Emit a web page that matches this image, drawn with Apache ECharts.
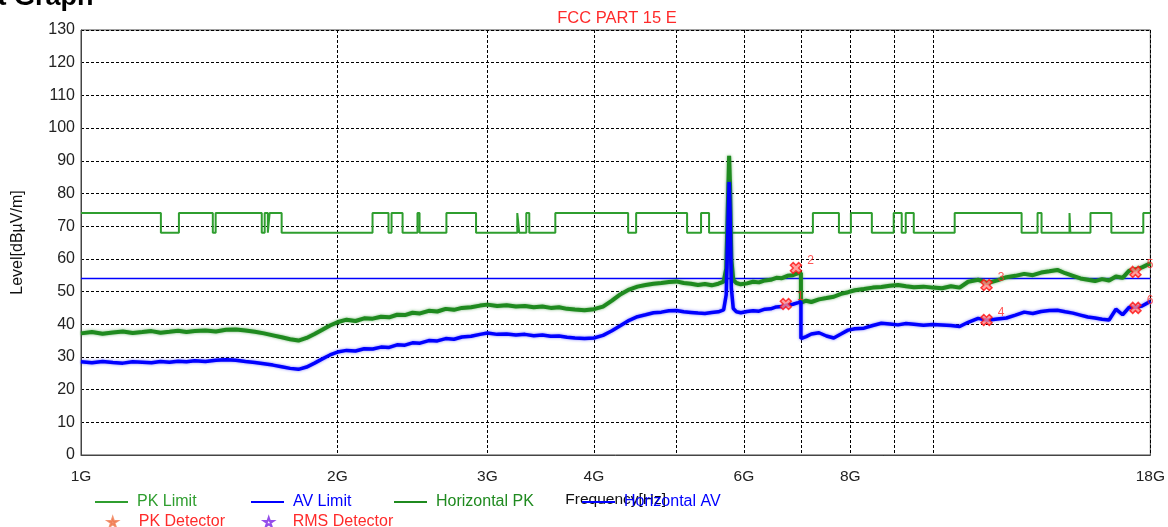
<!DOCTYPE html>
<html>
<head>
<meta charset="utf-8">
<script src="https://cdn.jsdelivr.net/npm/echarts@6.0.0/dist/echarts.min.js"></script>
<style>
  html, body { margin: 0; padding: 0; background: #fff; }
  #chart { width: 1168px; height: 527px; }
</style>
</head>
<body>
<div id="chart"></div>
<script>
// Scan frequencies (GHz) shared by both detector traces
const freqGHz = [
  1.00, 1.03, 1.06, 1.09, 1.12, 1.15, 1.18, 1.21, 1.24, 1.27, 1.30, 1.33, 1.36,
  1.40, 1.44, 1.48, 1.52, 1.56, 1.60, 1.64, 1.68, 1.72, 1.76, 1.80, 1.84, 1.88, 1.92, 1.96,
  2.00, 2.05, 2.10, 2.15, 2.20, 2.25, 2.30, 2.35, 2.40, 2.45, 2.50, 2.56, 2.62, 2.68, 2.74, 2.80, 2.87, 2.94,
  3.00, 3.08, 3.16, 3.24, 3.32, 3.40, 3.48, 3.56, 3.64, 3.72, 3.80, 3.90,
  4.00, 4.10, 4.20, 4.30, 4.40, 4.50, 4.60, 4.70, 4.80, 4.90, 5.00, 5.10, 5.20, 5.30, 5.40, 5.50, 5.60, 5.68,
  5.72, 5.75, 5.765, 5.78, 5.80, 5.83, 5.88, 5.95,
  6.05, 6.15, 6.25, 6.35, 6.45, 6.55, 6.65, 6.75, 6.85, 6.95, 7.00,
  7.00, 7.10, 7.20, 7.35, 7.50, 7.65, 7.80, 7.95, 8.10, 8.30, 8.50, 8.70, 8.90, 9.10, 9.30, 9.50, 9.75, 10.0, 10.25, 10.5, 10.75,
  11.0, 11.3, 11.6, 11.9, 12.2, 12.5, 12.8, 13.1, 13.4, 13.7, 14.0, 14.3, 14.6, 14.9, 15.2, 15.5, 15.8, 16.1, 16.4, 16.7, 17.0, 17.3, 17.6, 18.0
];

// Horizontal polarisation, peak detector (dBµV/m)
const horizontalPK = [
  37.2, 37.6, 37.1, 37.5, 37.8, 37.3, 37.6, 37.9, 37.4, 37.7, 38.0, 37.6, 37.9,
  38.1, 37.8, 38.3, 38.4, 38.1, 37.7, 37.2, 36.6, 36.0, 35.4, 35.0, 35.8, 37.0, 38.3, 39.6,
  40.6, 41.4, 41.0, 41.8, 41.7, 42.3, 42.1, 42.9, 42.8, 43.5, 43.3, 44.1, 43.9, 44.7, 44.4, 45.0, 45.2, 45.7,
  46.0, 45.6, 45.8, 45.4, 45.6, 45.2, 45.4, 45.0, 45.2, 44.7, 44.5, 44.3,
  44.6, 45.4, 47.2, 49.2, 50.6, 51.5, 52.0, 52.4, 52.6, 52.9, 53.1, 52.6, 52.4, 52.0, 52.3, 51.9, 52.4, 53.0,
  57.0, 80.0, 91.5, 82.0, 60.0, 53.6, 52.6, 52.2,
  52.5, 53.0, 52.8, 53.4, 53.6, 54.2, 54.1, 54.8, 55.0, 55.6, 55.7,
  46.6, 47.2, 46.8, 47.6, 48.0, 48.4, 49.3, 49.8, 50.4, 50.8, 51.2, 51.4, 51.8, 52.0, 51.6, 51.3, 51.5, 51.2, 51.0, 51.6, 51.2,
  53.0, 53.6, 52.6, 53.4, 54.4, 54.8, 55.4, 55.0, 55.8, 56.2, 56.6, 55.6, 54.8, 54.0, 53.6, 53.2, 53.8, 53.4, 54.6, 54.2, 56.4, 56.8, 57.4, 58.6
];

// Horizontal polarisation, average detector (dBµV/m)
const horizontalAV = [
  28.5, 28.2, 28.6, 28.3, 28.1, 28.5, 28.4, 28.2, 28.6, 28.4, 28.7, 28.5, 28.8,
  28.6, 29.0, 29.1, 29.0, 28.6, 28.3, 27.9, 27.5, 27.0, 26.5, 26.2, 26.9, 28.1, 29.4, 30.6,
  31.5, 32.0, 31.8, 32.5, 32.4, 33.0, 32.9, 33.7, 33.6, 34.3, 34.2, 35.0, 34.9, 35.6, 35.4, 36.1, 36.3, 36.9,
  37.3, 36.9, 37.0, 36.7, 36.9, 36.5, 36.7, 36.3, 36.4, 36.0, 35.8, 35.6,
  35.8, 36.6, 38.0, 39.6, 41.2, 42.3, 42.9, 43.5, 43.7, 44.1, 44.2, 43.8, 43.6, 43.4, 43.3, 43.6, 43.8, 44.4,
  49.0, 72.0, 83.5, 74.0, 51.0, 44.8, 43.8, 43.5,
  43.9, 44.1, 44.0, 44.6, 44.7, 45.3, 45.4, 45.9, 46.1, 46.6, 46.9,
  35.6, 36.2, 37.0, 37.4, 36.4, 35.8, 37.0, 38.2, 38.6, 38.8, 39.6, 40.3, 40.1, 39.8, 40.2, 40.0, 39.7, 39.9, 39.8, 39.6, 39.3,
  40.6, 41.8, 41.2, 41.6, 41.9, 42.8, 43.7, 43.3, 43.9, 44.2, 44.3, 43.8, 43.4, 42.8, 42.2, 41.9, 41.5, 41.3, 44.6, 42.9, 45.2, 45.2, 45.6, 47.0
];

// Peak limit: level that starts at each break frequency (GHz)
const pkLimitFreq = [
  1.000, 1.241, 1.303, 1.428, 1.439, 1.630, 1.643, 1.657, 1.665, 1.720,
  2.199, 2.296, 2.315, 2.385, 2.483, 2.497, 2.685, 2.909,
  3.252, 3.269, 3.332, 3.359, 3.604, 4.388, 4.484, 5.146, 5.344, 5.461,
  7.230, 7.757, 8.012, 8.479, 8.995, 9.192, 9.292, 9.496, 10.607,
  12.710, 13.270, 13.414, 14.467, 14.500, 15.310, 16.200, 17.660, 18.000
];
const pkLimitLevel = [
  74, 68, 74, 68, 74, 68, 74, 68, 74, 68,
  74, 68, 74, 68, 74, 68, 74, 68,
  74, 68, 74, 68, 74, 68, 74, 68, 74, 68,
  74, 68, 74, 68, 74, 68, 74, 68, 74,
  68, 74, 68, 74, 68, 74, 68, 74, 74
];

// Average limit
const avLimitFreq = [1, 18];
const avLimitLevel = [54, 54];

// Final measurement points
const pkDetFreq = [6.906, 11.56, 17.29];
const pkDetLevel = [57.2, 52.0, 56.0];
const pkDetNo = ['2', '3', '5'];
const rmsDetFreq = [6.72, 11.56, 17.29];
const rmsDetLevel = [46.2, 41.3, 45.0];
const rmsDetNo = ['1', '4', '6'];

// Axis ticks
const xLabelValues = [1, 2, 3, 4, 6, 8, 18];
const xGridValues = [1, 2, 3, 4, 5, 6, 7, 8, 9, 10, 18];

const FONT = "'Liberation Sans', Arial, sans-serif";
const GREEN_LIMIT = '#2f9e2f';
const GREEN_TRACE = '#1f8a1f';
const BLUE = '#0000ff';
const RED = '#ff2a2a';

const zip = (xs, ys) => xs.map((x, i) => [x, ys[i]]);
const zip3 = (xs, ys, ns) => xs.map((x, i) => [x, ys[i], ns[i]]);

const markerPath = 'path://M3,0 L6,3 L9,0 L12,3 L9,6 L12,9 L9,12 L6,9 L3,12 L0,9 L3,6 L0,3 Z';
const starPath = 'path://M5,0 L6.2,3.6 L10,3.6 L6.9,5.8 L8.1,9.5 L5,7.2 L1.9,9.5 L3.1,5.8 L0,3.6 L3.8,3.6 Z';

function lineLegend(name, left, top, color) {
  return {
    left: left, top: top, padding: 0, itemWidth: 33, itemHeight: 2,
    data: [{ name: name, icon: 'rect' }],
    itemStyle: { color: color },
    textStyle: { color: color, fontSize: 16, fontFamily: FONT, lineHeight: 16, padding: [0, 0, 0, 4] },
    selectedMode: false
  };
}
function starLegend(name, left, top, textPad, itemStyle) {
  return {
    left: left, top: top, padding: 0, itemWidth: 10, itemHeight: 9,
    data: [{ name: name, icon: starPath }],
    itemStyle: itemStyle,
    textStyle: { color: RED, fontSize: 16, fontFamily: FONT, lineHeight: 16, padding: [0, 0, 0, textPad] },
    selectedMode: false
  };
}

const chart = echarts.init(document.getElementById('chart'), null, { renderer: 'canvas' });

chart.setOption({
  animation: false,
  backgroundColor: '#fff',
  grid: {
    left: 81, right: 16, top: 30, bottom: 72,
    show: true, borderColor: '#444', borderWidth: 1
  },
  graphic: [
    {
      type: 'text', x: -47, y: -2,
      style: { text: 'Test Graph', font: 'bold 27px ' + FONT, fill: '#000', verticalAlign: 'middle' }
    },
    {
      type: 'text', x: 617, y: 18,
      style: { text: 'FCC PART 15 E', font: '16.5px ' + FONT, fill: RED, align: 'center', verticalAlign: 'middle' }
    }
  ],
  legend: [
    lineLegend('PK Limit', 95, 494, GREEN_LIMIT),
    lineLegend('AV Limit', 251, 494, BLUE),
    lineLegend('Horizontal PK', 394, 494, GREEN_TRACE),
    lineLegend('Horizontal AV', 582, 494, BLUE),
    starLegend('PK Detector', 107, 514, 16, { color: '#f07a50', borderColor: '#f07a50', borderWidth: 2 }),
    starLegend('RMS Detector', 263, 514, 14, { color: '#ffffff', borderColor: '#7a22e6', borderWidth: 2 })
  ],
  xAxis: {
    type: 'log', logBase: 10, min: 1, max: 18,
    name: 'Frequency[Hz]', nameLocation: 'middle', nameGap: 37,
    nameTextStyle: { color: '#111', fontSize: 15.5, fontFamily: FONT },
    axisLine: { show: true, lineStyle: { color: '#444', width: 1 } },
    axisTick: { show: false, customValues: xGridValues },
    axisLabel: {
      customValues: xLabelValues,
      formatter: v => Math.round(v) + 'G',
      color: '#222', fontSize: 15.5, fontFamily: FONT, margin: 14
    },
    splitLine: { show: true, lineStyle: { color: '#000', type: [3, 2], width: 1 } }
  },
  yAxis: {
    type: 'value', min: 0, max: 130, interval: 10,
    name: 'Level[dBµV/m]', nameLocation: 'middle', nameRotate: 90, nameGap: 55,
    nameTextStyle: { color: '#111', fontSize: 16, fontFamily: FONT },
    axisLine: { show: true, lineStyle: { color: '#444', width: 1 } },
    axisTick: { show: false },
    axisLabel: { color: '#222', fontSize: 16, fontFamily: FONT, margin: 6 },
    splitLine: { show: true, lineStyle: { color: '#000', type: [3, 2], width: 1 } }
  },
  series: [
    {
      name: 'PK Limit', type: 'line', step: 'end', showSymbol: false,
      data: zip(pkLimitFreq, pkLimitLevel),
      lineStyle: { color: GREEN_LIMIT, width: 2 }, itemStyle: { color: GREEN_LIMIT }, z: 2
    },
    {
      name: 'AV Limit', type: 'line', showSymbol: false,
      data: zip(avLimitFreq, avLimitLevel),
      lineStyle: { color: BLUE, width: 1.5 }, itemStyle: { color: BLUE }, z: 2
    },
    {
      name: 'Horizontal PK', type: 'line', showSymbol: false,
      data: zip(freqGHz, horizontalPK),
      lineStyle: { color: GREEN_TRACE, width: 4, shadowColor: 'rgba(31,138,31,0.6)', shadowBlur: 3 },
      itemStyle: { color: GREEN_TRACE }, z: 3
    },
    {
      name: 'Horizontal AV', type: 'line', showSymbol: false,
      data: zip(freqGHz, horizontalAV),
      lineStyle: { color: BLUE, width: 3.5, shadowColor: 'rgba(0,0,255,0.5)', shadowBlur: 3 },
      itemStyle: { color: BLUE }, z: 3
    },
    {
      name: 'PK Detector', type: 'scatter', symbol: markerPath, symbolSize: 11,
      data: zip3(pkDetFreq, pkDetLevel, pkDetNo),
      itemStyle: { color: '#ff8a8a', borderColor: '#ff1010', borderWidth: 1.5 },
      label: { show: true, position: 'right', offset: [0, -7], formatter: p => p.value[2], color: RED, fontSize: 12, fontFamily: FONT },
      z: 5
    },
    {
      name: 'RMS Detector', type: 'scatter', symbol: markerPath, symbolSize: 11,
      data: zip3(rmsDetFreq, rmsDetLevel, rmsDetNo),
      itemStyle: { color: '#ff8a8a', borderColor: '#ff1010', borderWidth: 1.5 },
      label: { show: true, position: 'right', offset: [0, -7], formatter: p => p.value[2], color: RED, fontSize: 12, fontFamily: FONT },
      z: 5
    }
  ]
});
</script>
</body>
</html>
